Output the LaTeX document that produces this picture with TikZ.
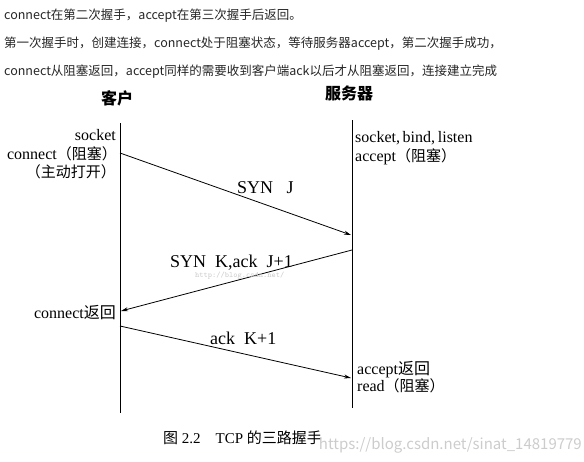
\documentclass[tikz,border=0pt]{standalone}
\usepackage{fontspec}
\setmainfont{Liberation Serif}
\newfontfamily\cjk{Noto Sans CJK SC}
\newcommand{\zh}[1]{{\cjk #1}}
\usetikzlibrary{arrows.meta}
\begin{document}
\begin{tikzpicture}[x=1pt,y=-1pt,
  toptext/.style={anchor=base west,inner sep=0pt,font=\cjk\fontsize{12.5}{14}\selectfont,text=black!85},
  hdr/.style={anchor=base,inner sep=0pt,font=\cjk\bfseries\fontsize{16}{18}\selectfont},
  lbl/.style={inner sep=0pt,font=\fontsize{16}{18}\selectfont},
  mlbl/.style={inner sep=0pt,font=\fontsize{18}{20}\selectfont},
  life/.style={line width=0.8pt},
  msg/.style={line width=0.8pt,-{Stealth[length=7pt,width=4pt]}},
  wm/.style={inner sep=0pt,text=black!20}]
\useasboundingbox (0,0) rectangle (584,461);
% top explanatory text
\node[toptext] (t1) at (4,19) {connect在第二次握手，accept在第三次握手后返回。};
\node[toptext] (t2) at (4,47) {第一次握手时，创建连接，connect处于阻塞状态，等待服务器accept，第二次握手成功，};
\node[toptext] (t3) at (4,75) {connect从阻塞返回，accept同样的需要收到客户端ack以后才从阻塞返回，连接建立完成};
% headers
\node[hdr] (hc) at (117,104) {客户};
\node[hdr] (hs) at (349,99) {服务器};
% lifelines
\coordinate (ctop) at (120,123);
\coordinate (cbot) at (120,413);
\coordinate (stop) at (352,120);
\coordinate (sbot) at (352,408);
\draw[life] (ctop) -- (cbot);
\draw[life] (stop) -- (sbot);
% client labels
\node[lbl,anchor=base east] (cl1) at (116,140) {socket};
\node[lbl,anchor=base east] (cl2) at (117,159) {connect\zh{\fontsize{15}{17}\selectfont（阻塞）}};
\node[lbl,anchor=base east] (cl3) at (116,177) {\zh{\fontsize{15}{17}\selectfont（主动打开）}};
\node[lbl,anchor=base east] (cl4) at (116,318) {connect\zh{返回}};
% server labels
\node[lbl,anchor=base west] (sl1) at (355,142) {socket,\,bind,\,listen};
\node[lbl,anchor=base west] (sl2) at (355,161) {accept\zh{\fontsize{15}{17}\selectfont（阻塞）}};
\node[lbl,anchor=base west] (sl3) at (357,374) {accept\zh{返回}};
\node[lbl,anchor=base west] (sl4) at (357,391) {read\zh{\fontsize{15}{17}\selectfont（阻塞）}};
% message points
\coordinate (m1a) at (120,153);
\coordinate (m1b) at (351,235);
\coordinate (m2a) at (352,250);
\coordinate (m2b) at (121,311);
\coordinate (m3a) at (120,326);
\coordinate (m3b) at (351,378);
\draw[msg] (m1a) -- (m1b);
\draw[msg] (m2a) -- (m2b);
\draw[msg] (m3a) -- (m3b);
% message labels
\node[mlbl,anchor=base west] (ml1) at (237,193) {SYN\ \ \ J};
\node[mlbl,anchor=base west] (ml2) at (170,267) {SYN\ \ K,ack\ \ J+1};
\node[mlbl,anchor=base west] (ml3) at (210,344) {ack\ \ K+1};
% watermark
\node[wm,anchor=base west,font=\ttfamily\fontsize{8}{9}\selectfont] (w1) at (195,277) {http://blog.csdn.net/};
% caption
\node[lbl,anchor=base west,font=\fontsize{15}{17}\selectfont] (cap) at (163,443) {\zh{图} 2.2\quad TCP \zh{的三路握手}};
\node[wm,anchor=base east,font=\cjk\fontsize{15}{17}\selectfont] (w2) at (582,449) {https://blog.csdn.net/sinat\_14819779};
\end{tikzpicture}
\end{document}
